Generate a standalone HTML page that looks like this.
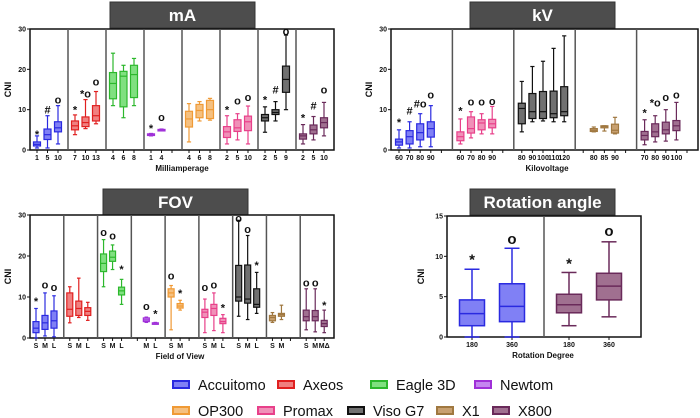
<!DOCTYPE html>
<html><head><meta charset="utf-8"><style>
body{margin:0;background:#fff;width:700px;height:418px;overflow:hidden;font-family:"Liberation Sans",sans-serif}
svg{display:block}
</style></head><body>
<svg id="chart" width="700" height="418" viewBox="0 0 700 418" xmlns="http://www.w3.org/2000/svg"></svg>
<script>
const brands = ["Accuitomo","Axeos","Eagle 3D","Newtom","OP300","Promax","Viso G7","X1","X800"];
const strokeColors = ["#2a2ae0","#e02020","#2db82d","#a030d8","#f09a35","#e8408a","#111111","#a07840","#6a2a5a"];
const fillColors = ["#8080f5","#f08080","#80e080","#c585f0","#f5c080","#f090b8","#707070","#c8a070","#a07090"];

// mA panel
const maGroups = [0,1,2,3,4,5,6,8];
const maLabels = [["1","5","10"],["7","10","13"],["4","6","8"],["1","4"],["4","6","8"],["2","5","10"],["2","5","9"],["2","5","10"]];
const maSlots = [[0,1,2],[0,1,2],[0,1,2],[0,1],[0,1,2],[0,1,2],[0,1,2],[0,1,2]];
const maStats = [
 [[0.5,1,1.4,2,3.5],[0.5,2.6,3.8,5.2,8.5],[1.5,4.5,5.5,7,11]],
 [[3.8,5,6,7.2,8.7],[5.3,5.8,6.8,8.2,12.5],[6.5,7.2,8.5,11,14.5]],
 [[11,12.7,16.5,19.2,24],[8,10.7,18.3,19.5,21],[11,13,18.7,21,22.7]],
 [[3.5,3.6,3.8,4,4.1],[4.8,4.9,5,5.1,5.2]],
 [[2,5.7,7.7,9.6,11.5],[7.2,8,9.8,11.3,12],[7.4,7.8,10,12.3,12.8]],
 [[1.5,3.1,4.5,5.8,8.5],[2.5,4.6,5.5,7.5,9],[1.5,4.8,7,8.4,10.9]],
 [[4.4,7.2,8,8.8,10.7],[7.2,8.8,9.3,10,12],[10,14.3,17.5,20.8,28.5]],
 [[1.5,2.7,3.5,4,6.3],[2.5,4,5,6.2,8.3],[3.5,5.5,6.8,8,11.8]]];
const maMarks = [["*","#","o"],["*","*o","o"],["","",""],["*","o"],["","",""],["*","o","o"],["*","#","o"],["*","#","o"]];
const maMarkY = [[4,10,12.5],[10,14,17],[0,0,0],[5.5,8.2],[0,0,0],[10,12.3,13.2],[12.5,15,29.5],[8,11,15]];

// kV panel
const kvGroups = [0,5,6,7,8];
const kvLabels = [["60","70","80","90"],["60","70","80","90"],["80","90","100","110","120"],["80","85","90"],["70","80","90","100"]];
const kvSlots = [[0,1,2,3],[0,1,2,3],[0,1,2,3,4],[1,2,3],[0,1,2,3]];
const kvStats = [
 [[0.5,1.2,2,2.7,5],[0.5,1.5,3.3,4.8,7],[0.8,2.5,4.3,6.5,9],[0.8,3.2,5.3,7,11]],
 [[1.5,2.3,3.3,4.5,7.7],[3,4.2,5.3,8.2,9.5],[4,5,6.7,7.5,9],[4,5.5,6.5,7.6,10.8]],
 [[4.5,6.5,10.3,11.6,17],[7,7.8,9.5,14,20.7],[7.2,7.8,9.5,14.5,22],[7,8,9,14.6,25.2],[7,8.5,9.5,15.7,28.3]],
 [[4.5,4.6,4.9,5.3,5.7],[4.7,5.5,5.8,6,6],[4,4.2,4.9,6.4,8.1]],
 [[1.3,2.5,3.6,4.6,7.5],[2,3.3,4.5,6.5,8.5],[2.2,4,5,6.9,10],[2.5,4.8,6,7.3,11.8]]];
const kvMarks = [["*","#","#o","o"],["*","o","o","o"],["","","","",""],["","",""],["*","*o","o","o"]];
const kvMarkY = [[7,9.8,11.5,13.7],[9.8,12,12,12.2],[0,0,0,0,0],[0,0,0],[9.3,11.8,13.2,13.7]];

// FOV panel
const fovGroups = [0,1,2,3,4,5,6,7,8];
const fovLabels = [["S","M","L"],["S","M","L"],["S","M","L"],["M","L"],["S","M"],["S","M","L"],["S","M","L"],["S","M"],["S","M","MΔ"]];
const fovSlots = [[0,1,2],[0,1,2],[0,1,2],[1,2],[0,1],[0,1,2],[0,1,2],[0,1],[0,1,2]];
const fovStats = [
 [[0,1.3,2.4,4,7.2],[0.5,2.1,3.7,5.5,11],[0.3,2.4,4.2,6.6,10.3]],
 [[3.7,5.3,7,11,12.5],[5,5.5,7.2,9,14.6],[4.3,5.5,6.5,7.4,8.7]],
 [[12.5,16.2,18.2,20.5,24],[16.7,18.7,19.7,21.2,22.7],[8.2,10.5,11.5,12.4,14.3]],
 [[3.8,4,4.4,4.9,5.1],[3.4,3.5,3.6,3.7,3.8]],
 [[2,10,11,12,12.8],[6.8,7.3,7.8,8.4,9.2]],
 [[1.3,5,6.3,7,9.5],[1.8,5.5,7.2,8.2,11],[1.3,3.5,4,4.8,5.7]],
 [[5.3,9,10,17.7,28.7],[4.5,8.5,9.5,17.8,25],[6,7.5,8.2,12,16]],
 [[3.8,4.2,5,5.5,6.2],[4.5,5.3,5.7,6,8]],
 [[2,4.2,5.2,6.8,12],[1.5,4.2,5.2,6.7,12],[1.3,2.8,3.5,4.3,6.8]]];
const fovMarks = [["*","o","o"],["","",""],["o","o","*"],["o","*"],["o","*"],["o","o","*"],["o","o","*"],["",""],["o","o","*"]];
const fovMarkY = [[9,13,12.5],[0,0,0],[25.8,25,16.8],[7.8,6],[15.2,11],[12.5,13,7.5],[29.3,26.6,17.8],[0,0],[13.5,13.5,8]];

// Rotation panel
const rotGroups = [0,8];
const rotLabels = [["180","360"],["180","360"]];
const rotSlots = [[0,1],[0,1]];
const rotStats = [[[0,1.4,2.9,4.6,8.4],[0,1.9,3.8,6.6,11]],[[1.4,3,4,5.3,8],[2.5,4.6,6.3,7.9,11.8]]];
const rotMarks = [["*","o"],["*","o"]];
const rotMarkY = [[9.5,12],[9,13]];

const svg = document.getElementById('chart');
const NS = "http://www.w3.org/2000/svg";
function mk(tag, attrs, parent){
  const e = document.createElementNS(NS, tag);
  for (const k in attrs) e.setAttribute(k, attrs[k]);
  (parent||svg).appendChild(e);
  return e;
}
function txt(s, attrs, parent){ const e = mk('text', attrs, parent); e.textContent = s; return e; }

function panel(cfg){
  const g = mk('g', {});
  
  
  const {x0,x1,y0,y1,ymax,nslots,off,sp,bw,groups,labels,slots,stats,marks,markY} = cfg;
  const yS = v => y1 - (v/ymax)*(y1-y0);
  const gw = (x1-x0)/groups.length;
  const xS = (gi, s) => x0 + gi*gw + off + s*sp;
  // title
  const tb = mk('rect', {x:cfg.tx, y:cfg.ty, width:cfg.tw, height:26, fill:'#4d4d4d', stroke:'#333'}, g);
  
  
  const tt = txt(cfg.title, {x:cfg.tx+cfg.tw/2, y:cfg.ty+19, 'text-anchor':'middle', fill:'#fff', 'font-size':17, 'font-weight':'bold'}, g);
  
  
  // frame
  const fr = mk('rect', {x:x0, y:y0, width:x1-x0, height:y1-y0, fill:'none', stroke:'#111', 'stroke-width':1.5}, g);
  
  
  for (let i=1;i<groups.length;i++){
    const d = mk('line', {x1:x0+i*gw, x2:x0+i*gw, y1:y0, y2:y1, stroke:'#555', 'stroke-width':1.5}, g);
    
    
  }
  // y ticks
  cfg.yticks.forEach(v=>{
    mk('line', {x1:x0-3, x2:x0, y1:yS(v), y2:yS(v), stroke:'#111'}, g);
    const t = txt(String(v), {x:x0-4, y:yS(v)+2.5, 'text-anchor':'end', 'font-size':7, 'font-weight':'bold', fill:'#111'}, g);
    
    
  });
  const yt = txt('CNI', {x:0, y:0, transform:`translate(${cfg.ylx},${(y0+y1)/2}) rotate(-90)`, 'text-anchor':'middle', 'font-size':9, 'font-weight':'bold', fill:'#111'}, g);
  
  
  const xt = txt(cfg.xtitle, {x:cfg.xtx, y:y1+21, 'text-anchor':'middle', 'font-size':8, 'font-weight':'bold', fill:'#111'}, g);
  
  
  // slot ticks
  groups.forEach((b,gi)=>{ for(let s=0;s<nslots;s++){ mk('line',{x1:xS(gi,s),x2:xS(gi,s),y1:y1,y2:y1+3,stroke:'#111'},g);} });
  // boxes
  groups.forEach((b,gi)=>{
    stats[gi].forEach((st,k)=>{
      const cx = xS(gi, slots[gi][k]);
      const col = strokeColors[b], fc = fillColors[b];
      const bg = mk('g', {}, g);
      
      
      const lw = cfg.bw>15?1.5:1.2;
      mk('line',{x1:cx,x2:cx,y1:yS(st[0]),y2:yS(st[1]),stroke:col,'stroke-width':lw},bg);
      mk('line',{x1:cx,x2:cx,y1:yS(st[3]),y2:yS(st[4]),stroke:col,'stroke-width':lw},bg);
      mk('line',{x1:cx-bw*0.3,x2:cx+bw*0.3,y1:yS(st[0]),y2:yS(st[0]),stroke:col,'stroke-width':lw},bg);
      mk('line',{x1:cx-bw*0.3,x2:cx+bw*0.3,y1:yS(st[4]),y2:yS(st[4]),stroke:col,'stroke-width':lw},bg);
      mk('rect',{x:cx-bw/2,y:yS(st[3]),width:bw,height:Math.max(1.5,yS(st[1])-yS(st[3])),fill:fc,stroke:col,'stroke-width':lw},bg);
      mk('line',{x1:cx-bw/2,x2:cx+bw/2,y1:yS(st[2]),y2:yS(st[2]),stroke:col,'stroke-width':lw},bg);
      const lb = txt(labels[gi][k], {x:cx, y:y1+10, 'text-anchor':'middle', 'font-size':7, 'font-weight':'bold', fill:'#111'}, g);
      
      
      const m = marks[gi][k];
      if (m){
        const mt = txt(m, {x:cx, y:yS(markY[gi][k])+4, 'text-anchor':'middle', 'font-size':cfg.mfs, fill:'#111', 'font-weight':'bold'}, g);
        
        
      }
    });
  });
}

panel({name:'ma',title:'mA',tx:110,ty:2,tw:145,x0:30,x1:334,y0:29,y1:150,ymax:30,yticks:[0,10,20,30],nslots:3,off:7,sp:10.5,bw:7,
  groups:maGroups,labels:maLabels,slots:maSlots,stats:maStats,marks:maMarks,markY:maMarkY,mfs:11,ylx:11,xtitle:'Milliamperage',xtx:182});
panel({name:'kv',title:'kV',tx:470,ty:2,tw:145,x0:391,x1:698,y0:29,y1:150,ymax:30,yticks:[0,10,20,30],nslots:5,off:8,sp:10.6,bw:7,
  groups:kvGroups,labels:kvLabels,slots:kvSlots,stats:kvStats,marks:kvMarks,markY:kvMarkY,mfs:11,ylx:372,xtitle:'Kilovoltage',xtx:547});
panel({name:'fov',title:'FOV',tx:103,ty:189,tw:145,x0:30,x1:334,y0:215,y1:338,ymax:30,yticks:[0,10,20,30],nslots:3,off:6,sp:9,bw:6,
  groups:fovGroups,labels:fovLabels,slots:fovSlots,stats:fovStats,marks:fovMarks,markY:fovMarkY,mfs:11,ylx:11,xtitle:'Field of View',xtx:180});
panel({name:'rotation',title:'Rotation angle',tx:470,ty:189,tw:145,x0:447,x1:641,y0:216,y1:337,ymax:15,yticks:[0,5,10,15],nslots:2,off:25,sp:40,bw:25,
  groups:rotGroups,labels:rotLabels,slots:rotSlots,stats:rotStats,marks:rotMarks,markY:rotMarkY,mfs:15,ylx:424,xtitle:'Rotation Degree',xtx:543});

// legend
const legX = [173,278,371,475,173,258,348,437,493];
const legY = [385,385,385,385,411,411,411,411,411];
brands.forEach((b,i)=>{
  const lg = mk('g', {});
  
  
  mk('rect',{x:legX[i],y:legY[i]-4,width:16,height:7,fill:fillColors[i],stroke:strokeColors[i],'stroke-width':2},lg);
  txt(b,{x:legX[i]+25,y:legY[i]+5,'font-size':14.5,fill:'#111'},lg);
});
</script>
</body></html>
